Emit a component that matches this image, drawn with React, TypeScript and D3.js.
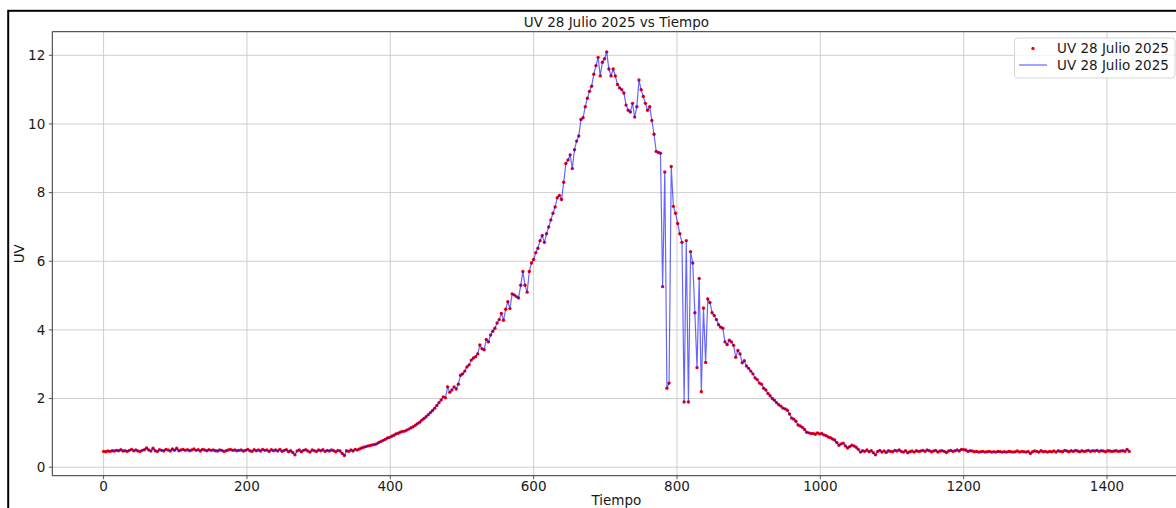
import React from "react";
import * as d3 from "d3";

// UV readings every 3 minutes, 28 July 2025 (minute 0 = 00:00)
const STEP_MIN = 3;

// 00:00 – 05:57
const uvMadrugada = [
  0.46, 0.45, 0.47, 0.46, 0.48, 0.47, 0.49, 0.48, 0.51, 0.47,
  0.48, 0.46, 0.49, 0.52, 0.48, 0.50, 0.47, 0.46, 0.49, 0.51,
  0.56, 0.50, 0.47, 0.55, 0.48, 0.46, 0.51, 0.49, 0.47, 0.52,
  0.50, 0.47, 0.53, 0.49, 0.55, 0.48, 0.50, 0.52, 0.49, 0.51,
  0.48, 0.50, 0.53, 0.49, 0.51, 0.47, 0.52, 0.50, 0.48, 0.51,
  0.49, 0.50, 0.48, 0.47, 0.50, 0.49, 0.46, 0.48, 0.50, 0.52,
  0.49, 0.50, 0.48, 0.49, 0.50, 0.47, 0.49, 0.52, 0.48, 0.46,
  0.51, 0.48, 0.50, 0.47, 0.52, 0.49, 0.50, 0.46, 0.51, 0.48,
  0.50, 0.47, 0.52, 0.46, 0.49, 0.51, 0.45, 0.48, 0.43, 0.36,
  0.47, 0.50, 0.45, 0.49, 0.51, 0.47, 0.44, 0.50, 0.48, 0.46,
  0.50, 0.48, 0.51, 0.46, 0.49, 0.47, 0.50, 0.48, 0.45, 0.49,
  0.47, 0.40, 0.34, 0.48, 0.46, 0.50, 0.47, 0.52, 0.50, 0.53,
];

// 06:00 – 11:57
const uvManana = [
  0.56, 0.58, 0.60, 0.62, 0.63, 0.65, 0.66, 0.68, 0.72, 0.75,
  0.78, 0.81, 0.85, 0.87, 0.90, 0.93, 0.97, 0.99, 1.02, 1.04,
  1.05, 1.08, 1.11, 1.15, 1.18, 1.22, 1.27, 1.31, 1.37, 1.42,
  1.47, 1.53, 1.59, 1.65, 1.72, 1.80, 1.88, 1.96, 2.05, 2.02,
  2.34, 2.18, 2.25, 2.34, 2.28, 2.42, 2.68, 2.72, 2.80, 2.92,
  2.98, 3.12, 3.18, 3.22, 3.30, 3.56, 3.45, 3.42, 3.72, 3.65,
  3.85, 3.96, 4.05, 4.20, 4.30, 4.48, 4.28, 4.60, 4.82, 4.62,
  5.05, 5.02, 4.97, 4.93, 5.30, 5.70, 5.30, 5.10, 5.70, 5.95,
  6.05, 6.25, 6.38, 6.60, 6.75, 6.55, 6.80, 7.00, 7.20, 7.40,
  7.58, 7.85, 7.92, 7.80, 8.30, 8.85, 8.95, 9.10, 8.70, 9.25,
  9.50, 9.65, 10.13, 10.18, 10.50, 10.75, 10.95, 11.10, 11.45, 11.70,
  11.94, 11.40, 11.80, 11.90, 12.10, 11.60, 11.40, 11.60, 11.40, 11.15,
];

// 12:00 – 17:57
const uvTarde = [
  11.05, 11.00, 10.90, 10.55, 10.40, 10.35, 10.60, 10.20, 10.50, 11.28,
  11.00, 10.80, 10.60, 10.40, 10.50, 10.10, 9.70, 9.20, 9.17, 9.15,
  5.26, 8.60, 2.30, 2.45, 8.76, 7.60, 7.40, 7.10, 6.80, 6.55,
  1.90, 6.60, 1.90, 6.28, 5.95, 4.50, 2.90, 5.50, 2.20, 4.64,
  3.05, 4.90, 4.80, 4.50, 4.42, 4.30, 4.15, 4.08, 4.05, 3.65,
  3.57, 3.70, 3.65, 3.55, 3.20, 3.40, 3.30, 3.04, 3.10, 2.95,
  2.88, 2.80, 2.72, 2.60, 2.55, 2.45, 2.42, 2.30, 2.25, 2.15,
  2.08, 2.00, 1.95, 1.88, 1.82, 1.78, 1.72, 1.70, 1.66, 1.55,
  1.43, 1.40, 1.34, 1.23, 1.20, 1.16, 1.10, 1.02, 1.00, 0.98,
  0.98, 0.96, 1.00, 0.97, 0.98, 0.94, 0.92, 0.88, 0.86, 0.82,
  0.79, 0.72, 0.64, 0.68, 0.70, 0.62, 0.56, 0.60, 0.64, 0.62,
  0.58, 0.52, 0.44, 0.48, 0.46, 0.50, 0.45, 0.48, 0.42, 0.36,
];

// 18:00 – 23:51
const uvNoche = [
  0.46, 0.49, 0.44, 0.47, 0.43, 0.48, 0.46, 0.45, 0.49, 0.47,
  0.50, 0.46, 0.44, 0.48, 0.42, 0.45, 0.47, 0.44, 0.48, 0.46,
  0.47, 0.49, 0.46, 0.50, 0.48, 0.45, 0.47, 0.49, 0.44, 0.47,
  0.48, 0.46, 0.43, 0.47, 0.49, 0.46, 0.48, 0.50, 0.47, 0.52,
  0.51, 0.50, 0.46, 0.48, 0.47, 0.45, 0.46, 0.44, 0.45, 0.46,
  0.44, 0.45, 0.46, 0.44, 0.45, 0.44, 0.46, 0.45, 0.44, 0.45,
  0.44, 0.46, 0.45, 0.44, 0.45, 0.47, 0.44, 0.46, 0.45, 0.44,
  0.46, 0.40, 0.45, 0.47, 0.46, 0.44, 0.48, 0.45, 0.46, 0.44,
  0.46, 0.45, 0.47, 0.44, 0.48, 0.46, 0.45, 0.49, 0.47, 0.45,
  0.48, 0.46, 0.49, 0.47, 0.45, 0.48, 0.46, 0.47, 0.49, 0.46,
  0.48, 0.47, 0.49, 0.46, 0.48, 0.47, 0.45, 0.48, 0.47, 0.46,
  0.47, 0.48, 0.46, 0.47, 0.48, 0.46, 0.52, 0.46,
];

const xTicks = [0, 200, 400, 600, 800, 1000, 1200, 1400];
const yTicks = [0, 2, 4, 6, 8, 10, 12];

const SERIES_LABEL = "UV 28 Julio 2025";
const TITLE = "UV 28 Julio 2025 vs Tiempo";
const X_LABEL = "Tiempo";
const Y_LABEL = "UV";

const W = 1176;
const H = 508;
const PLOT = { left: 52.3, right: 1180.5, top: 31.7, bottom: 475.7 };
const FONT = "'DejaVu Sans', sans-serif";
const FS = 13.5;
const TEXT = "#1a1a1a";
const DOT_R = 1.7;

type Pt = { t: number; v: number };

export default function App() {
  const uv = [...uvMadrugada, ...uvManana, ...uvTarde, ...uvNoche];
  const data: Pt[] = uv.map((v, i) => ({ t: i * STEP_MIN, v }));

  const [t0, t1] = d3.extent(data, (d) => d.t) as [number, number];
  const [v0, v1] = d3.extent(data, (d) => d.v) as [number, number];
  const padT = (t1 - t0) * 0.05;
  const padV = (v1 - v0) * 0.05;

  const x = d3.scaleLinear().domain([t0 - padT, t1 + padT]).range([PLOT.left, PLOT.right]);
  const y = d3.scaleLinear().domain([v0 - padV, v1 + padV]).range([PLOT.bottom, PLOT.top]);

  const linePath = d3
    .line<Pt>()
    .x((d) => x(d.t))
    .y((d) => y(d.v))(data) as string;

  const cx = (PLOT.left + PLOT.right) / 2;
  const cy = (PLOT.top + PLOT.bottom) / 2;

  return (
    <svg
      width={W}
      height={H}
      viewBox={`0 0 ${W} ${H}`}
      style={{ position: "absolute", left: 0, top: 0, background: "#fff" }}
      fontFamily={FONT}
    >
      <defs>
        <clipPath id="plot-clip">
          <rect x={PLOT.left} y={PLOT.top} width={PLOT.right - PLOT.left} height={PLOT.bottom - PLOT.top} />
        </clipPath>
      </defs>

      {/* figure frame */}
      <rect x={8.2} y={10.8} width={2000} height={2000} fill="none" stroke="#000" strokeWidth={2} />

      {/* grid */}
      <g stroke="#b0b0b0" strokeWidth={0.8} opacity={0.75}>
        {xTicks.map((t) => (
          <line key={`gx${t}`} x1={x(t)} x2={x(t)} y1={PLOT.top} y2={PLOT.bottom} />
        ))}
        {yTicks.map((v) => (
          <line key={`gy${v}`} x1={PLOT.left} x2={PLOT.right} y1={y(v)} y2={y(v)} />
        ))}
      </g>

      {/* data: red markers with a translucent blue line on top */}
      <g clipPath="url(#plot-clip)">
        <g fill="#ff0000">
          {data.map((d, i) => (
            <circle key={i} cx={x(d.t)} cy={y(d.v)} r={DOT_R} />
          ))}
        </g>
        <path d={linePath} fill="none" stroke="#0000ff" strokeOpacity={0.6} strokeWidth={1.2} />
      </g>

      {/* spines */}
      <g stroke="#333" strokeWidth={1} fill="none">
        <line x1={PLOT.left} x2={PLOT.left} y1={PLOT.top} y2={PLOT.bottom} />
        <line x1={PLOT.left} x2={PLOT.right} y1={PLOT.bottom} y2={PLOT.bottom} />
        <line x1={PLOT.left} x2={PLOT.right} y1={PLOT.top} y2={PLOT.top} />
        <line x1={PLOT.right} x2={PLOT.right} y1={PLOT.top} y2={PLOT.bottom} />
      </g>

      {/* x axis */}
      <g fontSize={FS} fill={TEXT} textAnchor="middle">
        {xTicks.map((t) => (
          <g key={`xt${t}`}>
            <line x1={x(t)} x2={x(t)} y1={PLOT.bottom} y2={PLOT.bottom + 3.5} stroke="#333" strokeWidth={0.8} />
            <text x={x(t)} y={PLOT.bottom + 15.5}>{t}</text>
          </g>
        ))}
        <text x={cx} y={505}>{X_LABEL}</text>
      </g>

      {/* y axis */}
      <g fontSize={FS} fill={TEXT} textAnchor="end">
        {yTicks.map((v) => (
          <g key={`yt${v}`}>
            <line x1={PLOT.left - 3.5} x2={PLOT.left} y1={y(v)} y2={y(v)} stroke="#333" strokeWidth={0.8} />
            <text x={PLOT.left - 7} y={y(v)} dy="0.36em">{v}</text>
          </g>
        ))}
        <text transform={`translate(24,${cy}) rotate(-90)`} textAnchor="middle">{Y_LABEL}</text>
      </g>

      {/* title */}
      <text x={cx} y={27} fontSize={FS} fill={TEXT} textAnchor="middle">{TITLE}</text>

      {/* legend */}
      <g>
        <rect x={1014.5} y={38} width={160.5} height={40} rx={3} fill="#fff" fillOpacity={0.8} stroke="#d6d6d6" strokeWidth={1} />
        <circle cx={1033} cy={48.5} r={DOT_R} fill="#ff0000" />
        <text x={1057} y={53} fontSize={FS} fill={TEXT}>{SERIES_LABEL}</text>
        <line x1={1019} x2={1047} y1={65} y2={65} stroke="#0000ff" strokeOpacity={0.6} strokeWidth={1.2} />
        <text x={1057} y={70} fontSize={FS} fill={TEXT}>{SERIES_LABEL}</text>
      </g>
    </svg>
  );
}
